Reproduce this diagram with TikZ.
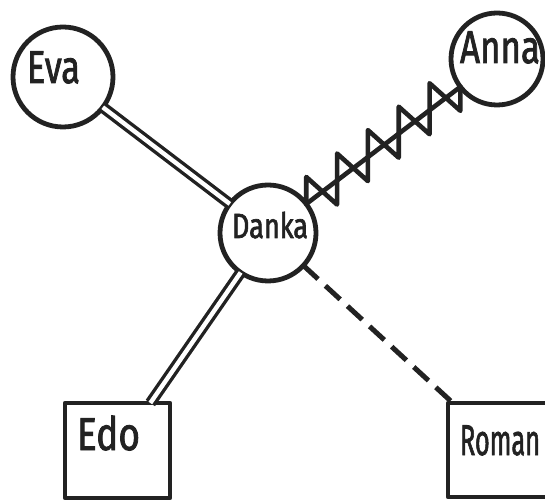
\documentclass[tikz,border=0pt]{standalone}
\usepackage{fontspec}
\usepackage{graphicx}
\newfontfamily\handfont{Fira Sans}[FakeBold=2]
\usetikzlibrary{calc}
\definecolor{ink}{RGB}{34,34,34}
\begin{document}
\begin{tikzpicture}[x=0.5pt,y=-0.5pt,
  inkline/.style={draw=ink, line width=2.4pt, line cap=round, line join=round},
  person/.style={circle, inkline, inner sep=0pt, outer sep=0pt},
  group/.style={rectangle, inkline, inner sep=0pt, outer sep=0pt},
  tag/.style={text=ink, inner sep=0pt, anchor=base, font=\handfont},
  strongtie/.style={draw=ink, line width=1.7pt, double=white, double distance=2.2pt},
  weaktie/.style={draw=ink, line width=2.5pt, dash pattern=on 10pt off 5pt},
  hostile/.style={inkline, line width=2.3pt}]
\path[use as bounding box, clip] (0,0) rectangle (545,501);

% people and groups
\node[person, minimum size=50pt] (eva) at (63,77) {};
\node[person, minimum size=46pt] (anna) at (497,59) {};
\node[person, minimum size=48pt] (danka) at (268,233) {};
\node[group, minimum width=52.5pt, minimum height=47.5pt] (edo) at (117.5,450.5) {};
\node[group, minimum width=56pt, minimum height=47pt] (roman) at (504,450) {};

% names
\node[tag] (eva-t) at (53.5,83) {\fontsize{23pt}{23pt}\selectfont\resizebox{26.5pt}{\height}{Eva}};
\node[tag] (anna-t) at (500,63) {\fontsize{23pt}{23pt}\selectfont\resizebox{40pt}{\height}{Anna}};
\node[tag] (danka-t) at (270,238) {\fontsize{17.5pt}{17.5pt}\selectfont\resizebox{38pt}{\height}{Danka}};
\node[tag] (edo-t) at (108.5,450) {\fontsize{23pt}{23pt}\selectfont\resizebox{31.5pt}{\height}{Edo}};
\node[tag] (roman-t) at (500,455) {\fontsize{21.5pt}{21.5pt}\selectfont\resizebox{40pt}{\height}{Roman}};

% ties
\draw[strongtie] (eva) -- (danka);
\draw[strongtie] (edo) -- (danka);
\draw[weaktie] (danka) -- (roman);

% hostile tie: straight line with a chain of bow ties
\draw[hostile] (danka) -- (anna)
  coordinate[pos=0] (z0) coordinate[pos=0.2] (z1) coordinate[pos=0.4] (z2)
  coordinate[pos=0.6] (z3) coordinate[pos=0.8] (z4) coordinate[pos=1] (z5);
\foreach \i [evaluate=\i as \j using int(\i+1)] in {0,...,4}
  \draw[hostile] (z\i) -- ++(0,-27) -- ($(z\j)+(0,24)$) -- (z\j);
\end{tikzpicture}
\end{document}
